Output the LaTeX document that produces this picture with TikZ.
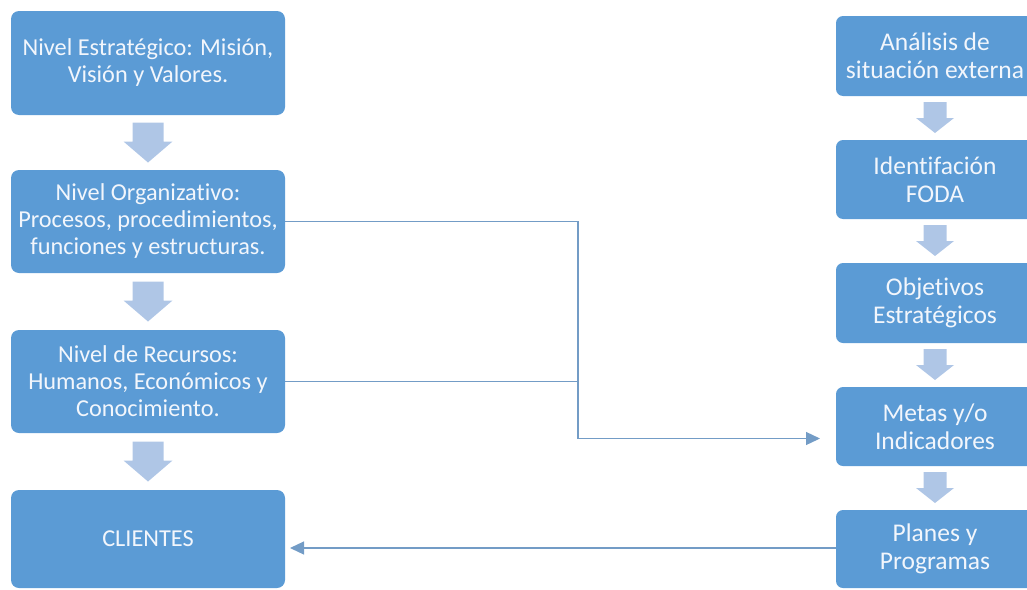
\documentclass[tikz,border=0pt]{standalone}
\usepackage{fontspec}
\setmainfont{Carlito}[Ligatures={NoCommon}]
\usetikzlibrary{arrows.meta,calc}
\definecolor{boxblue}{HTML}{5B9BD5}
\definecolor{flowblue}{HTML}{AFC6E6}
\definecolor{linkblue}{HTML}{739CC6}
\definecolor{boxtext}{HTML}{F2F6FC}
\begin{document}
\begin{tikzpicture}[x=1pt,y=-1pt,
  box/.style={fill=boxblue, rounded corners=8pt, text=boxtext, align=center, inner sep=0pt},
  leftbox/.style={box, minimum width=274pt, font=\fontsize{24.3}{27}\selectfont},
  rightbox/.style={box, minimum width=198pt, rounded corners=7pt, font=\fontsize{25.5}{28}\selectfont},
  link/.style={draw=linkblue, line width=1.2pt},
  tip/.style={-{Triangle[length=14pt,width=13pt]}},
  bigdown/.pic={\fill[flowblue] (-15.5,-20) -- (15.5,-20) -- (15.5,-1) -- (24.5,-1) -- (0,20) -- (-24.5,-1) -- (-15.5,-1) -- cycle;},
  smalldown/.pic={\fill[flowblue] (-11.5,-16) -- (11.5,-16) -- (11.5,0) -- (19,0) -- (0,15) -- (-19,0) -- (-11.5,0) -- cycle;}
]
\useasboundingbox (0,0) rectangle (1027,589);
\clip (0,0) rectangle (1027,589);

% left column: levels of the organisation
\node[leftbox, minimum height=104pt] (estr) at (148,63)    {Nivel Estratégico: Misión,\\Visión y Valores.};
\node[leftbox, minimum height=103pt] (org)  at (148,221.5) {Nivel Organizativo:\\Procesos, procedimientos,\\funciones y estructuras.};
\node[leftbox, minimum height=103pt] (rec)  at (148,381.5) {Nivel de Recursos:\\Humanos, Económicos y\\Conocimiento.};
\node[leftbox, minimum height=98pt]  (cli)  at (148,539)   {CLIENTES};

% right column: planning sequence
\node[rightbox, minimum height=80pt] (ana)  at (935,56)    {Análisis de\\situación externa};
\node[rightbox, minimum height=79pt] (foda) at (935,179.5) {Identifación\\FODA};
\node[rightbox, minimum height=80pt] (obj)  at (935,303)   {Objetivos\\Estratégicos};
\node[rightbox, minimum height=79pt] (met)  at (935,426.5) {Metas y/o\\Indicadores};
\node[rightbox, minimum height=78pt] (plan) at (935,549)   {Planes y\\Programas};

% block arrows between consecutive boxes
\pic at ($(estr.south)!0.5!(org.north)$) {bigdown};
\pic at ($(org.south)!0.5!(rec.north)$)  {bigdown};
\pic at ($(rec.south)!0.5!(cli.north)$)  {bigdown};
\pic at ($(ana.south)!0.5!(foda.north)$) {smalldown};
\pic at ($(foda.south)!0.5!(obj.north)$) {smalldown};
\pic at ($(obj.south)!0.5!(met.north)$)  {smalldown};
\pic at ($(met.south)!0.5!(plan.north)$) {smalldown};

% connectors
\coordinate (join) at (578,438.5);
\coordinate (into) at (820,438.5);
\coordinate (back) at (290,548);
\draw[link, tip] (org.east) -| (join) -- (into);
\draw[link] (rec.east) -- (rec.east -| join);
\draw[link, tip] (plan.west |- back) -- (back);
\end{tikzpicture}
\end{document}
